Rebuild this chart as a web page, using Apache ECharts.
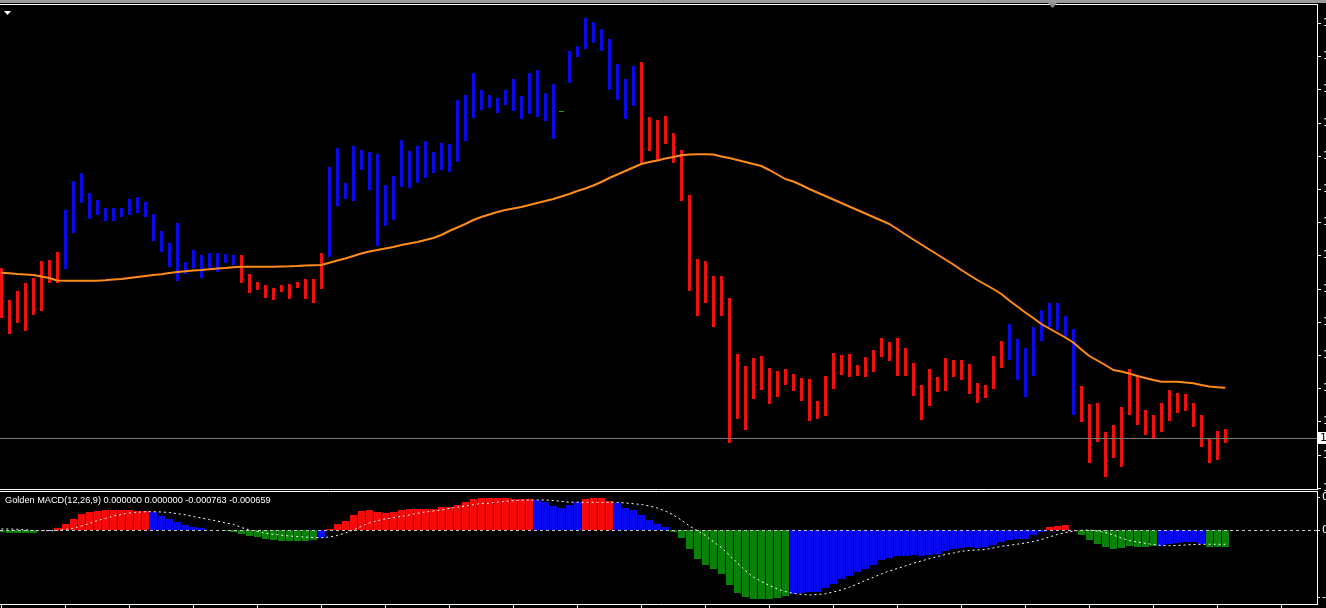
<!DOCTYPE html>
<html>
<head>
<meta charset="utf-8">
<script src="https://cdn.jsdelivr.net/npm/echarts@6/dist/echarts.min.js"></script>
<style>
  html, body { margin: 0; padding: 0; background: #000; }
  #chart { width: 1326px; height: 608px; }
</style>
</head>
<body>
<div id="chart"></div>
<script>
// ---- DATA (price in points above the chart base, MACD in scaled units) ----
const highs = [
  220,188,197,205,210,227,228,236,278,307,
  315,295,288,280,280,280,289,291,286,274,
  257,245,265,226,238,233,235,235,234,233,
  233,214,206,203,200,203,204,206,209,209,
  235,321,340,305,342,338,336,334,303,312,
  348,337,342,347,336,345,344,388,393,415,
  398,393,390,398,409,392,415,418,395,404,
  377,437,442,470,466,459,449,424,409,422,
  426,371,368,372,355,338,293,229,227,212,
  212,190,134,122,130,132,120,117,119,114,
  110,109,87,112,135,133,134,123,131,138,
  150,146,150,140,125,103,119,111,130,128,
  128,124,105,103,132,147,164,149,140,161,
  178,185,185,172,159,102,84,85,56,63,
  81,119,113,78,73,85,98,95,94,85,
  73,50,57,59
];
const lows = [
  170,154,165,157,173,177,205,205,219,255,
  285,269,273,267,267,271,273,275,271,247,
  236,221,207,214,220,210,220,216,225,223,
  205,195,198,190,188,196,189,200,189,185,
  199,231,282,289,287,318,298,242,262,268,
  301,300,305,310,315,318,316,326,347,370,
  378,380,375,383,377,369,374,371,367,349,
  377,405,431,439,445,437,398,388,369,382,
  325,337,328,344,325,287,197,172,185,161,
  172,45,69,58,89,98,84,91,103,97,
  87,67,69,72,99,113,111,112,111,116,
  131,127,112,112,92,68,82,96,97,111,
  108,94,85,90,99,120,128,108,91,112,
  147,161,158,151,73,66,25,46,11,30,
  21,73,63,53,49,56,67,75,77,61,
  41,25,28,45
];
// 1 = up (blue), -1 = down (red), 0 = unpainted flat bar
const trend = [
  -1,-1,-1,-1,-1,-1,-1,-1,
  1,1,1,1,1,1,1,1,1,1,1,1,1,1,1,1,1,1,1,1,1,1,
  -1,-1,-1,-1,-1,-1,-1,-1,-1,-1,-1,
  1,1,1,1,1,1,1,1,1,1,1,1,1,1,1,1,1,1,1,1,1,1,1,1,1,1,1,1,1,
  0,
  1,1,1,1,1,1,1,1,1,
  -1,-1,-1,-1,-1,-1,-1,-1,-1,-1,-1,-1,-1,-1,-1,-1,-1,-1,-1,-1,-1,-1,-1,
  -1,-1,-1,-1,-1,-1,-1,-1,-1,-1,-1,-1,-1,-1,-1,-1,-1,-1,-1,-1,-1,-1,-1,
  1,1,1,1,1,1,1,1,1,
  -1,-1,-1,-1,-1,-1,-1,-1,-1,-1,-1,-1,-1,-1,-1,-1,-1,-1,-1
];
const ma = [
  215.3,214.7,214,213.5,213,211.5,210,207.5,207.3,207.3,
  207.3,207.3,207.3,207.8,208.4,209,210,211,212,213,
  213.8,215,216,216.7,217.4,218,218.7,219.4,220,220.7,
  221.3,221.3,221.3,221.3,221.3,221.5,221.7,222,222.4,222.7,
  223,225.3,227.5,229.5,232,234.5,236.5,238,239.5,241,
  243,244.5,246,248,250,253,257,260.5,264,268,
  271,273.5,276,278,279.5,281,283,285,287,289,
  291.5,294,297,299.5,302.5,306,310,313.5,317,320.5,
  324,326,327.5,329.5,331,332.7,333.5,333.7,333.7,333.5,
  331.5,330,328,326,324,322,318,313.5,309,306.5,
  303,299,295.5,292,288.5,285,281.5,278,274.5,271,
  267.5,264,259,253.5,248.5,243.5,238.5,233.5,228.5,223.5,
  218,213,208,203.5,199,194,187.5,181.5,175.5,170,
  164,159.5,155,150.5,145.5,138.5,132,127.5,123,118,
  116.5,114.5,112,110,108,106.3,106.3,106.3,105.5,104.7,
  103,101.5,100.8,100.3
];
const macdHist = [
  -2,-3.3,-2.7,-3.3,-3.3,-0.3,0.3,1.7,6,11,
  16,18,19,20,20,20,20,19,19,17.7,
  14.3,11,7.7,5,3.3,2,0.3,0,-1,-1.7,
  -4,-5.7,-6.7,-9,-10,-11,-11,-11,-11,-10,
  -7.7,1,6,9,15,19,20,18.3,17.3,18,
  20,21,21,21,21,22.7,23.3,25,27.7,31,
  32,32,32,32,31.3,31,30.7,30,28.3,24.3,
  22,25,27.7,31,32,32,29.3,26.7,22.3,20,
  15.3,10,6,3.3,-1.7,-7.7,-19,-29,-35,-39.3,
  -44,-55,-62.7,-66.7,-69,-69,-69,-67.7,-65.7,-64,
  -62.7,-62.3,-61.7,-58.3,-54,-49,-46,-41.7,-39,-35,
  -30,-27.7,-26,-25.7,-25,-26,-25,-24,-20.7,-19,
  -17.7,-17.3,-17.7,-16.7,-15,-11.7,-10,-9,-9,-5,
  -2.3,3.3,4,5.3,0,-5,-10,-14,-16.7,-19,
  -17.7,-15.7,-16.7,-16.7,-16,-16,-14.3,-12.7,-12.3,-12.3,
  -14,-16.7,-16.7,-16.7
];
// R = rising above zero, B = weakening, G = falling below zero
const histTone = (
  'GGGGGG' + 'RRRRRRRRRRRRR' + 'BBBBBBBBB' + 'GGGGGGGGGGGG' + 'B' +
  'RRRRRRRRRRRRRRRRRRRRRRRRRR' + 'BBBBBB' + 'RRRR' + 'BBBBBBB' +
  'GGGGGGGGGGGGGGG' + 'BBBBBBBBBBBBBBBBBBBBBBBBBBBBBBBB' + 'RRR' +
  'GGGGGGGGGGG' + 'BBBBBB' + 'GGG'
).split('');
const macdSignal = [
  1,1,0.7,0.2,-0.5,-0.7,-0.7,-0.5,0.5,1.7,
  4,6.5,9.5,11.5,14,15.5,17,17.7,18.3,18.3,
  18,17.5,16.3,15.2,13.5,12,10.5,9,7,5.7,
  2.5,0,-1.3,-3.3,-4.3,-5.2,-6,-6.6,-7.1,-7.5,
  -7.7,-7,-5.5,-3,0,3.5,7,9.3,11,12.3,
  13.5,15,16.7,18,19,20,21.5,22.8,24,25.3,
  26.5,26.8,27.8,28.7,29.3,29.8,30,30,30,29.5,
  28.7,27.7,27.7,27.7,27.7,27.7,27.7,27.6,27,26.3,
  25.5,24,22,19,15,10,4,-0.5,-5.5,-11.5,
  -17.5,-25,-33,-40.5,-47,-51.5,-55.5,-59,-61.5,-63.3,
  -64.3,-65,-64.5,-63.7,-62,-60,-57.3,-54,-50.5,-47.3,
  -44,-41,-38.5,-36,-33.3,-31,-28.7,-26.7,-24.5,-23,
  -21.3,-20.5,-20,-19.5,-18,-16.3,-15.3,-14.2,-13,-11.5,
  -9.5,-7,-4.5,-2.5,-1,-0.3,0,-1,-2.5,-5,
  -8,-10.5,-12,-13.3,-14.5,-15.5,-15.7,-15.5,-15,-14.5,
  -14.3,-14.3,-14.3,-14.3
];
const lastPrice = 50;
const priceTicks = [0,33.2,66.4,99.6,132.8,166,199.2,232.4,265.6,298.8,332,365.2,398.4,431.6,464.8];
const macdTicks = [-67, 0, 33];
const timeTicks = [0,8,16,24,32,40,48,56,64,72,80,88,96,104,112,120,128,136,144,152,160];
const indicatorTitle = 'Golden MACD(12,26,9) 0.000000 0.000000 -0.000763 -0.000659';

// ---- styling ----
const COL = {
  up: '#0a0ae8', down: '#f01010', flat: '#22a022', ma: '#ff8c1a',
  hR: '#f40a0a', hB: '#0808f0', hG: '#0a820a',
  frame: '#ffffff', bidLine: '#7a7a7a'
};
const X_MIN = -0.1625, X_MAX = 164.4625;
const fmtPrice = v => (1.1 + v * 0.0025 / 33.2).toFixed(4);
const fmtMacd = v => (v * 0.0000457).toFixed(6);

const barData = highs.map((h, i) => [i, lows[i], h, trend[i]]);
const maData = ma.map((v, i) => [i, v]);
const histData = macdHist.map((v, i) => [i, v, histTone[i] === 'R' ? 0 : histTone[i] === 'B' ? 1 : 2]);
const sigData = macdSignal.map((v, i) => [i, v]);

function renderPriceBar(params, api) {
  const i = api.value(0);
  const lo = api.coord([i, api.value(1)]);
  const hi = api.coord([i, api.value(2)]);
  const t = api.value(3);
  const x = lo[0];
  if (t === 0) {
    return { type: 'rect', shape: { x: Math.round(x) - 2, y: Math.round(hi[1]), width: 5, height: 1 }, style: { fill: COL.flat } };
  }
  const top = Math.round(hi[1]), bot = Math.round(lo[1]);
  return { type: 'rect', shape: { x: Math.round(x - 1.5), y: top, width: 3, height: Math.max(1, bot - top) },
           style: { fill: t > 0 ? COL.up : COL.down } };
}
function renderHist(params, api) {
  const i = api.value(0);
  const z = api.coord([i, 0]);
  const p = api.coord([i, api.value(1)]);
  const tone = api.value(2);
  const y0 = Math.round(z[1]), y1 = Math.round(p[1]);
  const top = Math.min(y0, y1), h = Math.abs(y1 - y0);
  return { type: 'rect', shape: { x: Math.round(z[0] - 3.5), y: top, width: 7, height: h },
           style: { fill: tone === 0 ? COL.hR : tone === 1 ? COL.hB : COL.hG } };
}

const wl = (x1, y1, x2, y2) => ({ type: 'line', silent: true, z: 100,
  shape: { x1, y1, x2, y2 }, style: { stroke: COL.frame, lineWidth: 1 } });

const chart = echarts.init(document.getElementById('chart'), null, { renderer: 'canvas' });
chart.setOption({
  backgroundColor: '#000',
  animation: false,
  grid: [
    { left: 0, right: 9, top: 5, height: 483, containLabel: false, outerBoundsMode: 'none' },
    { left: 0, right: 9, top: 492, height: 112, containLabel: false, outerBoundsMode: 'none' }
  ],
  xAxis: [
    { type: 'value', gridIndex: 0, min: X_MIN, max: X_MAX, show: false,
      axisLine: { onZero: false } },
    { type: 'value', gridIndex: 1, min: X_MIN, max: X_MAX, position: 'bottom',
      axisLine: { show: true, onZero: false, lineStyle: { color: '#fff', width: 1 } },
      axisTick: { show: true, customValues: timeTicks, length: 4, lineStyle: { color: '#fff' } },
      axisLabel: { show: false }, splitLine: { show: false } }
  ],
  yAxis: [
    { type: 'value', gridIndex: 0, position: 'right', min: 0, max: 483,
      axisLine: { show: false, onZero: false },
      axisTick: { show: true, customValues: priceTicks, length: 4, lineStyle: { color: '#fff' } },
      axisLabel: { customValues: priceTicks, formatter: fmtPrice, color: '#fff', fontSize: 11,
                   fontFamily: 'DejaVu Sans', margin: 6 },
      splitLine: { show: false } },
    { type: 'value', gridIndex: 1, position: 'right', min: -74, max: 38,
      axisLine: { show: false, onZero: false },
      axisTick: { show: true, customValues: macdTicks, length: 3, lineStyle: { color: '#fff' } },
      axisLabel: { customValues: macdTicks, formatter: fmtMacd, color: '#fff', fontSize: 11,
                   fontFamily: 'DejaVu Sans', margin: 5 },
      splitLine: { show: false } }
  ],
  series: [
    { type: 'line', xAxisIndex: 0, yAxisIndex: 0, data: [], z: 1, silent: true,
      markLine: { silent: true, symbol: 'none', animation: false,
        lineStyle: { color: COL.bidLine, type: 'solid', width: 1 },
        label: { show: true, position: 'end', distance: 1, formatter: p => fmtPrice(p.value),
                 color: '#000', backgroundColor: '#fff', fontSize: 11, fontFamily: 'DejaVu Sans',
                 padding: [1, 2, 0, 2] },
        data: [{ yAxis: lastPrice }] } },
    { type: 'custom', xAxisIndex: 0, yAxisIndex: 0, z: 2, silent: true,
      renderItem: renderPriceBar, encode: { x: 0, y: [1, 2] }, data: barData },
    { type: 'line', xAxisIndex: 0, yAxisIndex: 0, z: 3, silent: true, data: maData,
      showSymbol: false, symbol: 'none', smooth: false,
      lineStyle: { color: COL.ma, width: 2 } },
    { type: 'custom', xAxisIndex: 1, yAxisIndex: 1, z: 2, silent: true,
      renderItem: renderHist, encode: { x: 0, y: 1 }, data: histData },
    { type: 'line', xAxisIndex: 1, yAxisIndex: 1, z: 4, silent: true, data: sigData,
      showSymbol: false, symbol: 'none',
      lineStyle: { color: '#ffffff', width: 1, type: [2, 3] },
      markLine: { silent: true, symbol: 'none', animation: false,
        lineStyle: { color: '#c8c8c8', type: [3, 3], width: 1 },
        label: { show: false }, data: [{ yAxis: 0 }] } }
  ],
  graphic: [
    { type: 'rect', silent: true, z: 100, shape: { x: 0, y: 0, width: 1326, height: 3 }, style: { fill: '#9a9a9a' } },
    wl(0, 4.5, 1317.5, 4.5),
    wl(1317.5, 4, 1317.5, 490),
    wl(0, 489.5, 1317.5, 489.5),
    wl(0, 491.5, 1317.5, 491.5),
    wl(1317.5, 491, 1317.5, 605),
    { type: 'polygon', silent: true, z: 100, shape: { points: [[4, 11], [11, 11], [7.5, 15]] }, style: { fill: '#ffffff' } },
    { type: 'polygon', silent: true, z: 100, shape: { points: [[1048, 3], [1057, 3], [1052.5, 8]] }, style: { fill: '#8c8c8c' } },
    { type: 'text', silent: true, z: 100, x: 5, y: 500.5,
      style: { text: indicatorTitle, fill: '#ffffff', fontSize: 9.2, fontFamily: 'Liberation Sans',
               verticalAlign: 'middle', align: 'left' } }
  ]
});
</script>
</body>
</html>
